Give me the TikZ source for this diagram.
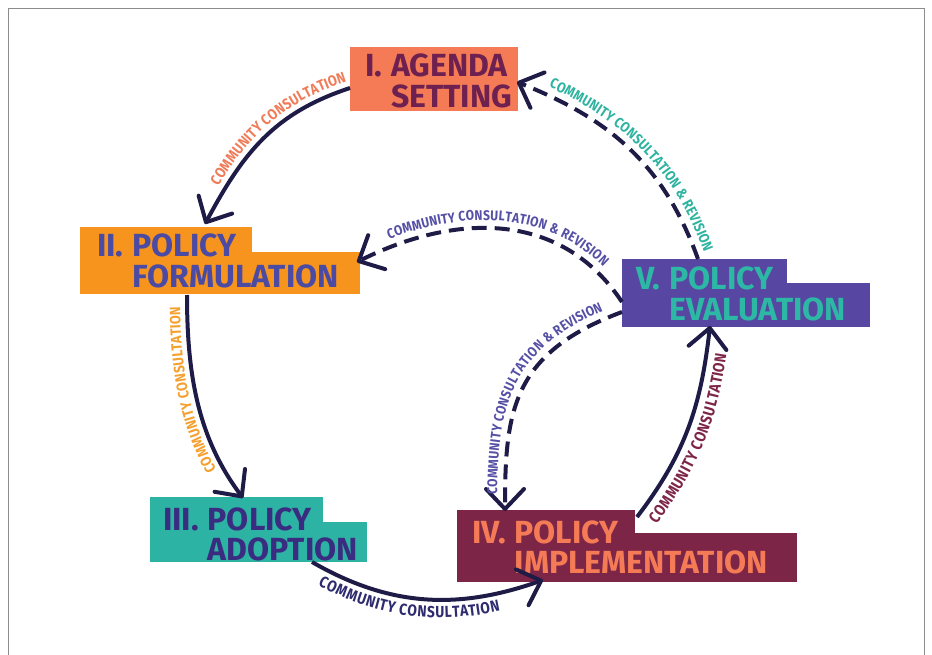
\documentclass[tikz,border=0pt]{standalone}
\usepackage{fontspec}
\setmainfont{Fira Sans}
\newfontfamily\labelfont{Fira Sans}[FakeStretch=0.86]
\usetikzlibrary{arrows.meta,decorations.text}

\definecolor{agendaFill}{HTML}{F47B55}
\definecolor{agendaText}{HTML}{6E2150}
\definecolor{formFill}{HTML}{F7941E}
\definecolor{formText}{HTML}{4B4BA3}
\definecolor{adoptFill}{HTML}{2DB3A3}
\definecolor{adoptText}{HTML}{3A2C80}
\definecolor{implFill}{HTML}{7D2547}
\definecolor{implText}{HTML}{F47B55}
\definecolor{evalFill}{HTML}{5747A3}
\definecolor{evalText}{HTML}{2DB8A6}
\definecolor{flow}{HTML}{1E1B47}
\definecolor{labA}{HTML}{F07B58}
\definecolor{labB}{HTML}{F5A02E}
\definecolor{labC}{HTML}{2E2B6E}
\definecolor{labD}{HTML}{7D2547}
\definecolor{labE}{HTML}{2DB3A0}
\definecolor{labF}{HTML}{5550A5}

\tikzset{
  panel/.style={rectangle, inner sep=0pt, outer sep=0pt, anchor=north west},
  title/.style={inner sep=0pt, outer sep=0pt, anchor=base west,
    font=\bfseries\fontsize{32}{27}\selectfont},
  flowline/.style={draw=flow, line width=4pt,
    -{Straight Barb[length=20pt,width=38pt,round]}},
  solidflow/.style={flowline},
  dashflow/.style={flowline, dash pattern=on 15pt off 8pt},
  lab/.style n args={5}{decorate, decoration={text along path,
    text align={#5}, raise=#2, text color=#1,
    text={|\labelfont\bfseries\fontsize{#3}{#3}\selectfont|#4}}},
}

\newcommand{\stagetitle}[2]{\begin{tabular}[t]{@{}l@{\hspace{0.28em}}l@{}}#1 & #2\end{tabular}}

\begin{document}
\begin{tikzpicture}[x=1pt,y=-1pt]
\useasboundingbox (0,0) rectangle (932,655);
\draw[black!45, line width=1pt] (8.5,8.5) rectangle (924.5,670);

% stage panels
\node[panel, fill=agendaFill, minimum width=168pt, minimum height=64pt] (agenda) at (350,47) {};
\node[panel, fill=formFill, minimum width=172pt, minimum height=26pt] (formTop) at (80,227) {};
\node[panel, fill=formFill, minimum width=280pt, minimum height=42pt] (formBot) at (80,252) {};
\node[panel, fill=adoptFill, minimum width=173pt, minimum height=26pt] (adoptTop) at (150,497) {};
\node[panel, fill=adoptFill, minimum width=217pt, minimum height=40pt] (adoptBot) at (150,522) {};
\node[panel, fill=implFill, minimum width=178pt, minimum height=24pt] (implTop) at (457,510) {};
\node[panel, fill=implFill, minimum width=340pt, minimum height=49pt] (implBot) at (457,533) {};
\node[panel, fill=evalFill, minimum width=165pt, minimum height=25pt] (evalTop) at (622,259) {};
\node[panel, fill=evalFill, minimum width=248pt, minimum height=44pt] (evalBot) at (622,283) {};

% stage titles
\node[title, text=agendaText] (tAgenda) at (365,77) {\stagetitle{I.}{AGENDA\\ & SETTING}};
\node[title, text=formText] (tForm) at (97,257) {\stagetitle{II.}{POLICY\\ & FORMULATION}};
\node[title, text=adoptText] (tAdopt) at (163,530) {\stagetitle{III.}{POLICY\\ & ADOPTION}};
\node[title, text=implText] (tImpl) at (472,543) {\stagetitle{IV.}{POLICY\\ & IMPLEMENTATION}};
\node[title, text=evalText] (tEval) at (636,290) {\stagetitle{V.}{POLICY\\ & EVALUATION}};

% connector ends
\coordinate (s1) at (350,88);  \coordinate (e1) at (205,224);
\coordinate (s2) at (187,295); \coordinate (e2) at (243,498);
\coordinate (s3) at (312,562); \coordinate (e3) at (543,580);
\coordinate (s4) at (637,517); \coordinate (e4) at (710,326);
\coordinate (s5) at (698,259); \coordinate (e5) at (517,82);
\coordinate (s6) at (622,302); \coordinate (e6) at (357,262);
\coordinate (s7) at (622,312); \coordinate (e7) at (505,511);

% main cycle
\draw[solidflow] (s1) .. controls +(-76,25) and +(38,-71) .. (e1);
\draw[solidflow] (s2) .. controls +(0,80) and +(-45,-60) .. (e2);
\draw[solidflow] (s3) .. controls +(78,45) and +(-85,30) .. (e3);
\draw[solidflow] (s4) .. controls +(49,-64) and +(-9,79) .. (e4);

% feedback from evaluation
\draw[dashflow] (s5) .. controls +(-34,-94) and +(93,37) .. (e5);
\draw[dashflow] (s6) .. controls +(-61,-92) and +(98,-49) .. (e6);
\draw[dashflow] (s7) .. controls +(-110,41) and +(0,-100) .. (e7);

% labels along the connectors
\path[lab={labA}{7pt}{15}{COMMUNITY CONSULTATION}{right, right indent=1pt}]
  (e1) .. controls +(38,-71) and +(-76,25) .. (s1);
\path[lab={labB}{7pt}{15}{COMMUNITY CONSULTATION}{right, right indent=12pt}]
  (e2) .. controls +(-45,-60) and +(0,80) .. (s2);
\path[lab={labC}{-18pt}{16}{COMMUNITY CONSULTATION}{left, left indent=16pt}]
  (s3) .. controls +(78,45) and +(-85,30) .. (e3);
\path[lab={labD}{-20pt}{16}{COMMUNITY CONSULTATION}{left, left indent=6pt}]
  (s4) .. controls +(49,-64) and +(-9,79) .. (e4);
\path[lab={labE}{8pt}{14.5}{COMMUNITY CONSULTATION {\&} REVISION}{right, right indent=4pt}]
  (e5) .. controls +(93,37) and +(-34,-94) .. (s5);
\path[lab={labF}{8pt}{14}{COMMUNITY CONSULTATION {\&} REVISION}{center}]
  (e6) .. controls +(98,-49) and +(-61,-92) .. (s6);
\path[lab={labF}{8pt}{14}{COMMUNITY CONSULTATION {\&} REVISION}{center}]
  (e7) .. controls +(0,-100) and +(-110,41) .. (s7);
\end{tikzpicture}
\end{document}
